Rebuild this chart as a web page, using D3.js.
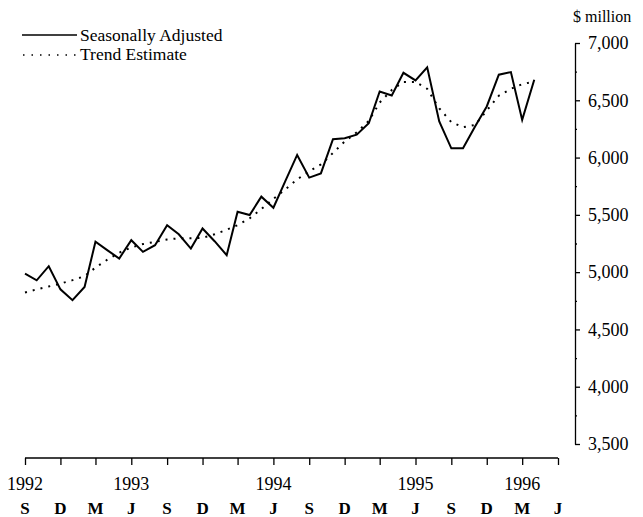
<!DOCTYPE html>
<html>
<head>
<meta charset="utf-8">
<script src="https://cdn.jsdelivr.net/npm/d3@7"></script>
<style>
  body { margin: 0; background: #fff; }
  svg text { font-family: "Liberation Serif", "Times New Roman", serif; fill: #000; }
</style>
</head>
<body>
<svg id="chart" width="643" height="517"></svg>
<script>
// ---- data (monthly, Sep 1992 to Apr 1996) ----
const startMonth = "1992-09";
const seasonallyAdjusted = [
  4987, 4929, 5052, 4850, 4755, 4871, 5265, 5190, 5119, 5279, 5177, 5235,
  5410, 5330, 5206, 5381, 5270, 5148, 5527, 5498, 5659, 5562, 5790, 6023,
  5825, 5862, 6160, 6169, 6200, 6300, 6577, 6542, 6740, 6673, 6787, 6315,
  6081, 6081, 6271, 6446, 6723, 6746, 6329, 6679
];
const trendEstimate = [
  4822, 4850, 4875, 4900, 4930, 4965, 5040, 5110, 5170, 5215, 5245, 5265,
  5285, 5295, 5295, 5300, 5330, 5370, 5410, 5470, 5550, 5640, 5720, 5810,
  5880, 5940, 6040, 6140, 6220, 6320, 6480, 6590, 6660, 6660, 6600, 6430,
  6310, 6265, 6285, 6410, 6540, 6600, 6640, 6665
];
const yTicks = [3500, 4000, 4500, 5000, 5500, 6000, 6500, 7000];
const quarterTicks = ["1992-09","1992-12","1993-03","1993-06","1993-09","1993-12",
  "1994-03","1994-06","1994-09","1994-12","1995-03","1995-06","1995-09","1995-12",
  "1996-03","1996-06"];
const monthLetters = ["S","D","M","J","S","D","M","J","S","D","M","J","S","D","M","J"];
const yearLabels = ["1992","1993","1994","1995","1996"];
const yearLabelMonths = ["1992-09","1993-06","1994-06","1995-06","1996-03"];
const seriesNames = ["Seasonally Adjusted", "Trend Estimate"];
const unitLabel = "$ million";

// ---- build ----
const parse = d3.timeParse("%Y-%m");
const t0 = parse(startMonth);
const dates = seasonallyAdjusted.map((_, i) => d3.timeMonth.offset(t0, i));

const svg = d3.select("#chart");
const x = d3.scaleTime().domain([parse("1992-09"), parse("1996-06")]).range([25, 558]);
const y = d3.scaleLinear().domain([3500, 7000]).range([444, 43]);

// x axis
const xAxisY = 458;
const gx = svg.append("g").attr("transform", `translate(0,${xAxisY})`);
gx.call(d3.axisBottom(x).tickValues(quarterTicks.map(parse)).tickSize(7).tickSizeOuter(0).tickFormat(""))
  .call(g => g.selectAll("path, line").attr("stroke", "#000").attr("stroke-width", 1.3));
gx.select(".domain").attr("d", `M${x.range()[0]},0H${x.range()[1]}`);

svg.append("g").selectAll("text.yr").data(yearLabels).join("text")
  .attr("x", (d, i) => x(parse(yearLabelMonths[i])))
  .attr("y", 490)
  .attr("text-anchor", "middle")
  .style("font-size", "18px")
  .text(d => d);

svg.append("g").selectAll("text.mo").data(monthLetters).join("text")
  .attr("x", (d, i) => x(parse(quarterTicks[i])))
  .attr("y", 514)
  .attr("text-anchor", "middle")
  .style("font-size", "17px")
  .style("font-weight", "bold")
  .text(d => d);

// y axis (right)
const yAxisX = 575;
const gy = svg.append("g").attr("transform", `translate(${yAxisX},0)`);
gy.call(d3.axisRight(y).tickValues(d3.range(3750, 7000, 500)).tickSize(2).tickSizeOuter(0).tickFormat(""))
  .call(g => g.selectAll("path, line").attr("stroke", "#000").attr("stroke-width", 1.3));
const gy2 = svg.append("g").attr("transform", `translate(${yAxisX},0)`);
gy2.call(d3.axisRight(y).tickValues(yTicks).tickSize(5).tickPadding(8).tickFormat(d3.format(",")))
  .call(g => g.select(".domain").remove())
  .call(g => g.selectAll("line").attr("stroke", "#000").attr("stroke-width", 1.3))
  .call(g => g.selectAll("text").style("font-size", "18px").attr("font-family", "Liberation Serif, serif"));

svg.append("text")
  .attr("x", 573).attr("y", 22)
  .style("font-size", "16px")
  .text(unitLabel);

// lines
const line = d3.line().x((d, i) => x(dates[i])).y(d => y(d));
svg.append("path")
  .datum(trendEstimate)
  .attr("fill", "none")
  .attr("stroke", "#000")
  .attr("stroke-width", 2)
  .attr("stroke-dasharray", "2,6")
  .attr("d", line);
svg.append("path")
  .datum(seasonallyAdjusted)
  .attr("fill", "none")
  .attr("stroke", "#000")
  .attr("stroke-width", 2)
  .attr("stroke-linejoin", "miter")
  .attr("d", line);

// legend
const legend = svg.append("g");
legend.append("line").attr("x1", 22).attr("x2", 77).attr("y1", 35).attr("y2", 35)
  .attr("stroke", "#000").attr("stroke-width", 1.3);
legend.append("text").attr("x", 80).attr("y", 41).style("font-size", "17.5px").text(seriesNames[0]);
legend.append("line").attr("x1", 23).attr("x2", 76).attr("y1", 55).attr("y2", 55)
  .attr("stroke", "#000").attr("stroke-width", 1.5).attr("stroke-dasharray", "1.5,7");
legend.append("text").attr("x", 80).attr("y", 60).style("font-size", "17.5px").text(seriesNames[1]);
</script>
</body>
</html>
